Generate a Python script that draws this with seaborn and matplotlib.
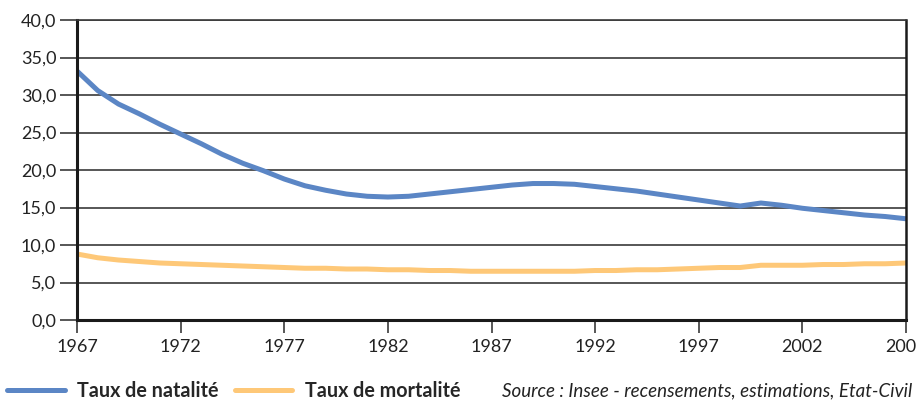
import matplotlib
matplotlib.use("Agg")
import matplotlib.pyplot as plt
import numpy as np
import pandas as pd
import seaborn as sns
from matplotlib.ticker import FuncFormatter

years = list(range(1967, 2008))
natalite = [33.2, 30.6, 28.8, 27.5, 26.1, 24.8, 23.5, 22.1, 20.9, 19.9,
            18.8, 17.9, 17.3, 16.8, 16.5, 16.4, 16.5, 16.8, 17.1, 17.4,
            17.7, 18.0, 18.2, 18.2, 18.1, 17.8, 17.5, 17.2, 16.8, 16.4,
            16.0, 15.6, 15.2, 15.6, 15.3, 14.9, 14.6, 14.3, 14.0, 13.8, 13.5]
mortalite = [8.8, 8.3, 8.0, 7.8, 7.6, 7.5, 7.4, 7.3, 7.2, 7.1,
             7.0, 6.9, 6.9, 6.8, 6.8, 6.7, 6.7, 6.6, 6.6, 6.5,
             6.5, 6.5, 6.5, 6.5, 6.5, 6.6, 6.6, 6.7, 6.7, 6.8,
             6.9, 7.0, 7.0, 7.3, 7.3, 7.3, 7.4, 7.4, 7.5, 7.5, 7.6]
series = ["Taux de natalité", "Taux de mortalité"]
colors = ["#5b86c5", "#fec878"]
xticks = list(range(1967, 2008, 5))
yticks = [0, 5, 10, 15, 20, 25, 30, 35, 40]
source = "Source : Insee - recensements, estimations, Etat-Civil"

df = pd.DataFrame({
    "annee": years * 2,
    "taux": natalite + mortalite,
    "serie": [series[0]] * len(years) + [series[1]] * len(years),
})

sns.set_style("white")
plt.rcParams["font.family"] = ["Lato", "DejaVu Sans"]

fig = plt.figure(figsize=(9.17, 4.01), dpi=100)
ax = fig.add_axes([0.084, 0.202, 0.904, 0.748])

sns.lineplot(data=df, x="annee", y="taux", hue="serie", palette=colors,
             linewidth=3.6, ax=ax, legend=False)

ax.set_xlim(1967, 2007)
ax.set_ylim(0, 40)
ax.set_xticks(xticks)
ax.set_yticks(yticks)
ax.yaxis.set_major_formatter(FuncFormatter(lambda v, p: f"{v:.1f}".replace(".", ",")))
ax.set_xlabel("")
ax.set_ylabel("")

ax.grid(axis="y", color="#3a3a3a", linewidth=1.2)
ax.set_axisbelow(True)
for side in ["left", "bottom"]:
    ax.spines[side].set_color("#1a1a1a")
    ax.spines[side].set_linewidth(2.2)
ax.spines["right"].set_color("#1a1a1a")
ax.spines["right"].set_linewidth(1.8)
ax.spines["top"].set_color("#3a3a3a")
ax.spines["top"].set_linewidth(1.2)

ax.tick_params(axis="y", direction="out", length=12, width=1.2, color="#3a3a3a",
               labelsize=13, pad=3, left=True)
ax.tick_params(axis="x", direction="out", length=9, width=1.2, color="#3a3a3a",
               labelsize=13, pad=5, bottom=True)
for lab in ax.get_xticklabels() + ax.get_yticklabels():
    lab.set_color("#222222")

handles = [plt.Line2D([], [], color=c, linewidth=3.6) for c in colors]
leg = fig.legend(handles, series, loc="center left", bbox_to_anchor=(0.008, 0.025),
                 ncol=2, frameon=False, handlelength=2.9, handletextpad=0.65,
                 columnspacing=0.8, borderpad=0, borderaxespad=0,
                 prop={"weight": "bold", "size": 14.2})
fig.text(0.995, 0.025, source, ha="right", va="center", fontsize=13.5,
         style="italic", color="#222222")

fig.savefig("out.png", dpi=100)
